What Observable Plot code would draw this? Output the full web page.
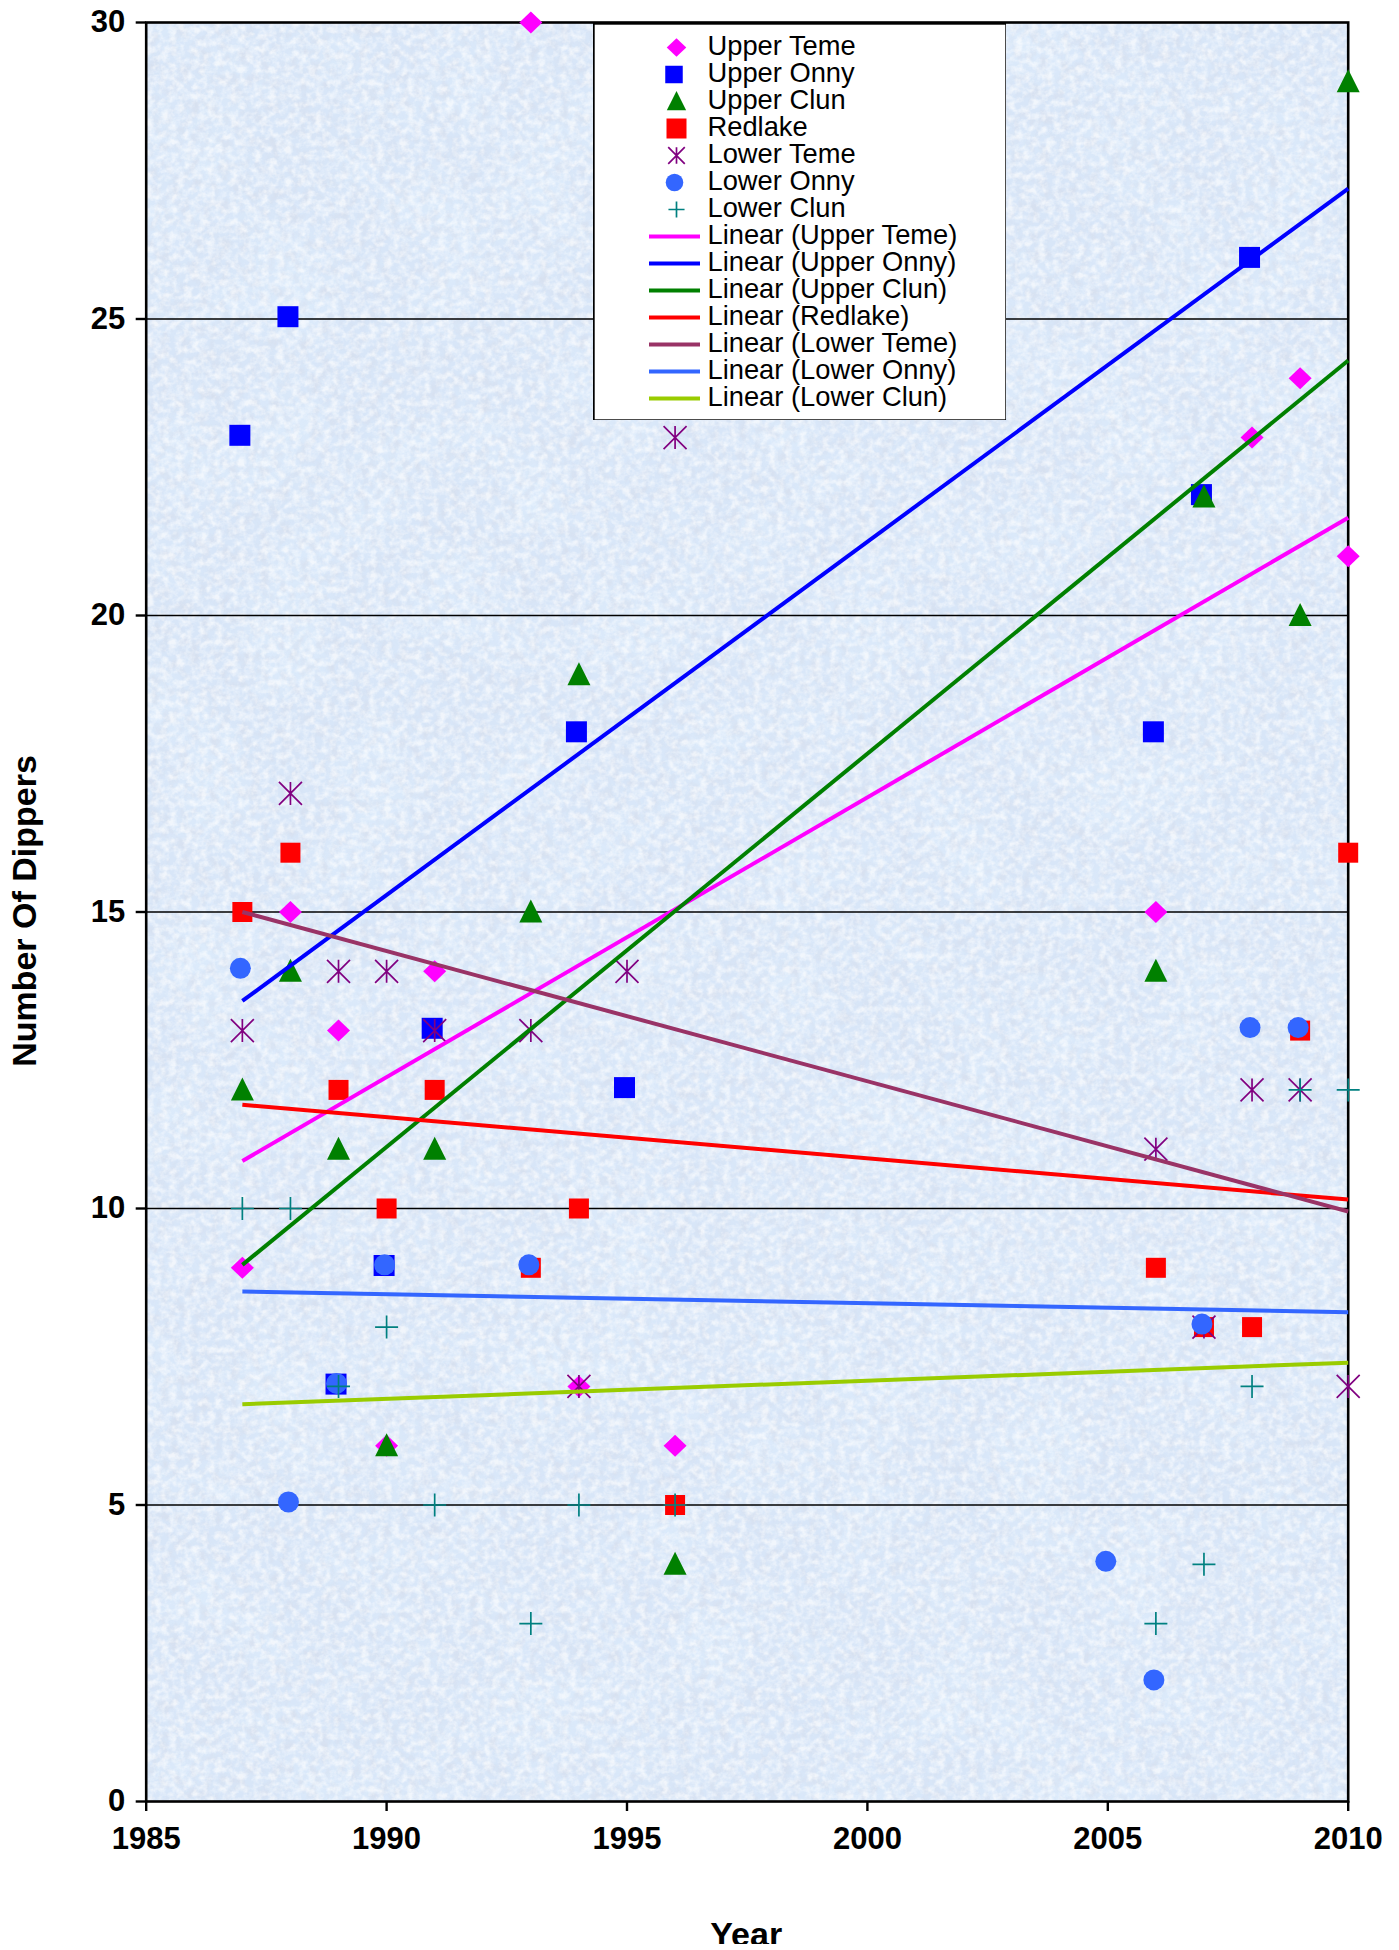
<!DOCTYPE html>
<html><head><meta charset="utf-8">
<script src="https://cdn.jsdelivr.net/npm/d3@7"></script>
<script src="https://cdn.jsdelivr.net/npm/@observablehq/plot@0.6"></script>
<style>html,body{margin:0;padding:0;background:#fff}#wrap{position:relative;width:1399px;height:1950px;overflow:hidden}#legend{position:absolute;left:593px;top:23px}#crop{position:absolute;left:0;top:1944px;width:1399px;height:6px;background:#fff}svg{display:block}</style>
</head><body><div id="wrap"><div id="chart"></div><div id="legend"></div><div id="crop"></div></div>
<script>
const seriesNames = ["Upper Teme","Upper Onny","Upper Clun","Redlake","Lower Teme","Lower Onny","Lower Clun"];
const upperTeme = [[1987,9],[1988,15],[1989,13],[1990,6],[1991,14],[1993,30],[1994,7],[1996,6],[2006,15],[2008,23],[2009,24],[2010,21]];
const upperOnny = [[1987,23],[1988,25],[1989,7],[1990,9],[1991,13],[1994,18],[1995,12],[2006,18],[2007,22],[2008,26]];
const upperClun = [[1987,12],[1988,14],[1989,11],[1990,6],[1991,11],[1993,15],[1994,19],[1996,4],[2006,14],[2007,22],[2009,20],[2010,29]];
const redlake = [[1987,15],[1988,16],[1989,12],[1990,10],[1991,12],[1993,9],[1994,10],[1996,5],[2006,9],[2007,8],[2008,8],[2009,13],[2010,16]];
const lowerTeme = [[1987,13],[1988,17],[1989,14],[1990,14],[1991,13],[1993,13],[1994,7],[1995,14],[1996,23],[2006,11],[2007,8],[2008,12],[2009,12],[2010,7]];
const lowerOnny = [[1987,14],[1988,5],[1989,7],[1990,9],[1993,9],[2005,4],[2006,2],[2007,8],[2008,13],[2009,13]];
const lowerClun = [[1987,10],[1988,10],[1989,7],[1990,8],[1991,5],[1993,3],[1994,5],[1996,5],[2006,3],[2007,4],[2008,7],[2009,12],[2010,12]];
const trendYears = [1987,2010];
const trendStart = [10.8,13.5,9.05,11.75,15,8.6,6.7];
const trendEnd = [21.65,27.2,24.3,10.15,9.95,8.25,7.4];
const markerColors = ["#ff00ff","#0000ff","#008000","#ff0000","#800080","#3366ff","#008080"];
const trendColors = ["#ff00ff","#0000ff","#008000","#ff0000","#993366","#3366ff","#99cc00"];
const xTicks = [1985,1990,1995,2000,2005,2010];
const yTicks = [0,5,10,15,20,25,30];
const gridValues = [5,10,15,20,25];
const allSeries = [upperTeme,upperOnny,upperClun,redlake,lowerTeme,lowerOnny,lowerClun];

const font = "'Liberation Sans', Arial, sans-serif";
const diamond = k=>({draw(c){c.moveTo(0,-11*k);c.lineTo(11.5*k,0);c.lineTo(0,11*k);c.lineTo(-11.5*k,0);c.closePath();}});
const square = (w,h)=>({draw(c){c.rect(-w/2,-h/2,w,h);}});
const triangle = k=>({draw(c){c.moveTo(0,-12.5*k);c.lineTo(11.5*k,10.5*k);c.lineTo(-11.5*k,10.5*k);c.closePath();}});
const asterisk = k=>({draw(c){c.moveTo(-11.5*k,-11.5*k);c.lineTo(11.5*k,11.5*k);c.moveTo(11.5*k,-11.5*k);c.lineTo(-11.5*k,11.5*k);c.moveTo(0,-11.5*k);c.lineTo(0,11.5*k);}});
const disc = r=>({draw(c){c.moveTo(r,0);c.arc(0,0,r,0,Math.PI*2);}});
const plus = k=>({draw(c){c.moveTo(-11.5*k,0);c.lineTo(11.5*k,0);c.moveTo(0,-11.5*k);c.lineTo(0,11.5*k);}});
const chartSymbols = [diamond(1),square(21,21),triangle(1),square(20,20),asterisk(1),disc(10.5),plus(1)];
const legendSymbols = [diamond(0.85),square(17.5,17.5),triangle(0.84),square(20,20),asterisk(0.72),disc(8.8),plus(0.7)];
const strokeOnly = [false,false,false,false,true,false,true];
const offsets = [[0,0],[-2.5,-2.3],[0,0],[0,0],[0,0],[-2,-3],[0,0]];

function texture(index, {x,y}){
  const x0=x(1985),x1=x(2010),y0=y(30),y1=y(0);
  const g=d3.create("svg:g");
  const defs=g.append("defs");
  const f1=defs.append("filter").attr("id","mottle").attr("x",0).attr("y",0).attr("width","100%").attr("height","100%");
  f1.append("feTurbulence").attr("type","fractalNoise").attr("baseFrequency","0.13 0.15").attr("numOctaves",3).attr("seed",4);
  f1.append("feColorMatrix").attr("type","matrix").attr("values","0 0 0 0 1  0 0 0 0 1  0 0 0 0 1  2.4 0 0 0 -0.9");
  const f3=defs.append("filter").attr("id","grain").attr("x",0).attr("y",0).attr("width","100%").attr("height","100%");
  f3.append("feTurbulence").attr("type","fractalNoise").attr("baseFrequency","0.1 0.08").attr("numOctaves",3).attr("seed",21);
  f3.append("feColorMatrix").attr("type","matrix").attr("values","0 0 0 0 0.68  0 0 0 0 0.72  0 0 0 0 0.82  2.6 0 0 0 -1.1");
  const f2=defs.append("filter").attr("id","blotch").attr("x",0).attr("y",0).attr("width","100%").attr("height","100%");
  f2.append("feTurbulence").attr("type","fractalNoise").attr("baseFrequency","0.012").attr("numOctaves",2).attr("seed",9);
  f2.append("feColorMatrix").attr("type","matrix").attr("values","0 0 0 0 0.76  0 0 0 0 0.88  0 0 0 0 1  2.2 0 0 0 -0.9");
  const r=()=>g.append("rect").attr("x",x0).attr("y",y0).attr("width",x1-x0).attr("height",y1-y0);
  r().attr("fill","#d8e6f8");
  r().attr("fill","#000").attr("filter","url(#blotch)").attr("opacity",0.5);
  r().attr("fill","#000").attr("filter","url(#grain)").attr("opacity",0.55);
  r().attr("fill","#000").attr("filter","url(#mottle)").attr("opacity",0.65);
  return g.node();
}

const pointMarks = allSeries.map((rows,i)=>Plot.dot(rows,{
  x:d=>d[0], y:d=>d[1], symbol:chartSymbols[i],
  fill: strokeOnly[i] ? "none" : markerColors[i],
  stroke: strokeOnly[i] ? markerColors[i] : "none",
  strokeWidth: strokeOnly[i] ? 1.7 : 0,
  dx:offsets[i][0], dy:offsets[i][1]
}));
const trendMarks = trendStart.map((s,i)=>Plot.line([[trendYears[0],s],[trendYears[1],trendEnd[i]]],{
  x:d=>d[0], y:d=>d[1], stroke:trendColors[i], strokeWidth:4, strokeLinecap:"butt"
}));

const chart = Plot.plot({
  width:1399,height:1950,
  marginLeft:145.7,marginRight:51.3,marginTop:22,marginBottom:149,
  style:{fontFamily:font,background:"#fff",overflow:"hidden"},
  x:{domain:[1985,2010],label:null},
  y:{domain:[0,30],label:null},
  marks:[
    texture,
    Plot.ruleY(gridValues,{stroke:"#000",strokeWidth:1.6}),
    Plot.frame({stroke:"#000",strokeWidth:2.6}),
    Plot.axisX({ticks:xTicks,tickFormat:"d",tickSize:10,tickPadding:15,fontSize:31,fontWeight:"bold",stroke:"#000",strokeWidth:2.4,fill:"#000",label:null,strokeOpacity:1}),
    Plot.axisY({ticks:yTicks,tickSize:10,tickPadding:11,fontSize:31,fontWeight:"bold",stroke:"#000",strokeWidth:2.4,fill:"#000",label:null,strokeOpacity:1}),
    ...pointMarks,
    ...trendMarks,
    Plot.text(["Number Of Dippers"],{frameAnchor:"left",textAnchor:"middle",rotate:-90,dx:-121,dy:-1,fontSize:34,fontWeight:"bold",fill:"#000"}),
    Plot.text(["Year"],{frameAnchor:"bottom",dy:144,dx:-1,fontSize:34,fontWeight:"bold",fill:"#000"})
  ]
});
document.getElementById("chart").append(chart);

const legendRows = [...seriesNames,...seriesNames.map(n=>`Linear (${n})`)];
const legendPlot = Plot.plot({
  width:413,height:397,margin:0,
  style:{fontFamily:font,background:"#fff"},
  x:{type:"identity",axis:null},
  y:{type:"point",domain:legendRows,range:[21,378],padding:0,axis:null},
  marks:[
    Plot.frame({stroke:"#000",strokeWidth:2.4}),
    ...seriesNames.map((n,i)=>Plot.dot([n],{x:()=>83,y:d=>d,symbol:legendSymbols[i],
      fill: strokeOnly[i] ? "none" : markerColors[i],
      stroke: strokeOnly[i] ? markerColors[i] : "none",
      strokeWidth: strokeOnly[i] ? 1.7 : 0,
      dx:offsets[i][0]})),
    ...seriesNames.map((n,i)=>Plot.ruleY([`Linear (${n})`],{x1:56,x2:107,stroke:trendColors[i],strokeWidth:4})),
    Plot.text(legendRows,{x:()=>114,y:d=>d,text:d=>d,textAnchor:"start",fontSize:27.3,fill:"#000",dy:-1.5})
  ]
});
document.getElementById("legend").append(legendPlot);
</script></body></html>
